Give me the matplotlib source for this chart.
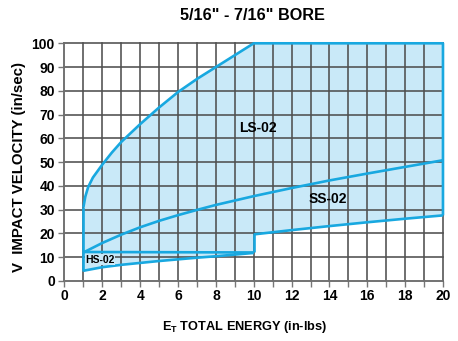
import numpy as np
import matplotlib
matplotlib.use("Agg")
import matplotlib.pyplot as plt

plt.rcParams["font.family"] = ["Liberation Sans", "DejaVu Sans"]
plt.rcParams["font.weight"] = "bold"
plt.rcParams["mathtext.fontset"] = "custom"
plt.rcParams["mathtext.rm"] = "Liberation Sans:bold"
plt.rcParams["mathtext.bf"] = "Liberation Sans:bold"

# ---- data ----
ls_energy = [1, 1.1, 1.25, 1.5, 2, 2.5, 3, 4, 5, 6, 7, 8, 9, 10]
ls_velocity = [31, 35.5, 39.5, 43.5, 49, 54, 58.5, 66, 73, 79.5, 85, 90, 95, 100]

ss_energy = [1, 2, 3, 4, 5, 6, 7, 8, 10, 12, 14, 16, 18, 20]
ss_velocity = [12, 16, 19.5, 22.6, 25.3, 27.7, 29.9, 32, 35.7, 39.1, 42.3, 45.2, 48, 50.8]

hs_low_energy = [1, 2, 3, 4, 5, 6, 7, 8, 9, 10]
hs_low_velocity = [4.3, 5.8, 6.8, 7.6, 8.4, 9.1, 9.8, 10.4, 11.1, 11.8]
hs_top_energy = [1, 10]
hs_top_velocity = [12.2, 12]

ss_low_energy = [10, 12, 14, 16, 18, 20]
ss_low_velocity = [19.6, 21.4, 23.1, 24.7, 26.2, 27.6]

v_max = 100
e_max = 20

LINE = "#18a8e0"
FILL = "#c9e9f8"
GRID = "#4f4f4f"

fig = plt.figure(figsize=(4.58, 3.41), dpi=100)
ax = fig.add_axes([0.1408, 0.176, 0.8264, 0.697])

# outline of the whole operating envelope
poly_e = (hs_low_energy + [10] + ss_low_energy + [e_max, e_max] +
          ls_energy[::-1] + [ls_energy[0]])
poly_v = (hs_low_velocity + [ss_low_velocity[0]] + ss_low_velocity +
          [ss_low_velocity[-1], v_max] + ls_velocity[::-1] + [hs_low_velocity[0]])
ax.fill(poly_e, poly_v, color=FILL, zorder=1, lw=0)

# grid
for x in np.arange(0, e_max + 1, 1):
    ax.plot([x, x], [0, v_max], color=GRID, lw=1.15, zorder=2, clip_on=False)
for y in np.arange(0, v_max + 1, 10):
    ax.plot([0, e_max], [y, y], color=GRID, lw=1.15, zorder=2, clip_on=False)

# boundary curves
kw = dict(color=LINE, lw=1.9, zorder=3, clip_on=False, solid_capstyle="butt")
ax.plot(ls_energy + [10, e_max, e_max], ls_velocity + [v_max, v_max, ss_low_velocity[-1]], **kw)
ax.plot([1, 1], [hs_low_velocity[0], ls_velocity[0]], **kw)
ax.plot(ss_energy, ss_velocity, **kw)
ax.plot(hs_low_energy, hs_low_velocity, **kw)
ax.plot(hs_top_energy, hs_top_velocity, **kw)
ax.plot([10, 10], [hs_top_velocity[-1], ss_low_velocity[0]], **kw)
ax.plot(ss_low_energy, ss_low_velocity, **kw)

ax.text(10.2, 64.3, "LS-02", fontsize=10, fontweight="bold", ha="center", va="center", zorder=4)
ax.text(13.9, 34.3, "SS-02", fontsize=10, fontweight="bold", ha="center", va="center", zorder=4)
ax.text(1.1, 9.0, "HS-02", fontsize=7.5, fontweight="bold", ha="left", va="center", zorder=4,
        bbox=dict(facecolor=FILL, edgecolor="none", pad=0.5))

ax.set_xlim(0, e_max)
ax.set_ylim(0, v_max)
ax.set_xticks(np.arange(0, e_max + 1, 2))
ax.set_xticks(np.arange(0, e_max + 1, 1), minor=True)
ax.set_yticks(np.arange(0, v_max + 1, 10))
for s in ["top", "right"]:
    ax.spines[s].set_visible(False)
for s in ["left", "bottom"]:
    ax.spines[s].set_color("#777777")
    ax.spines[s].set_linewidth(1.1)
ax.tick_params(which="both", direction="out", length=4, width=1, color="#777777",
               labelsize=10, pad=3)
ax.tick_params(axis="x", which="major", pad=2)
for lab in ax.get_xticklabels() + ax.get_yticklabels():
    lab.set_fontweight("bold")

fig.text(0.552, 0.955, "5/16\" - 7/16\" BORE", fontsize=11.7, fontweight="bold",
         ha="center", va="center")
fig.text(0.535, 0.04, r"$\mathbf{E_T}$ TOTAL ENERGY (in-lbs)", fontsize=9.2,
         fontweight="bold", ha="center", va="center")
fig.text(0.041, 0.51, "V  IMPACT VELOCITY (in/sec)", fontsize=10.8, fontweight="bold",
         ha="center", va="center", rotation=90)

fig.savefig("out.png", dpi=100)
